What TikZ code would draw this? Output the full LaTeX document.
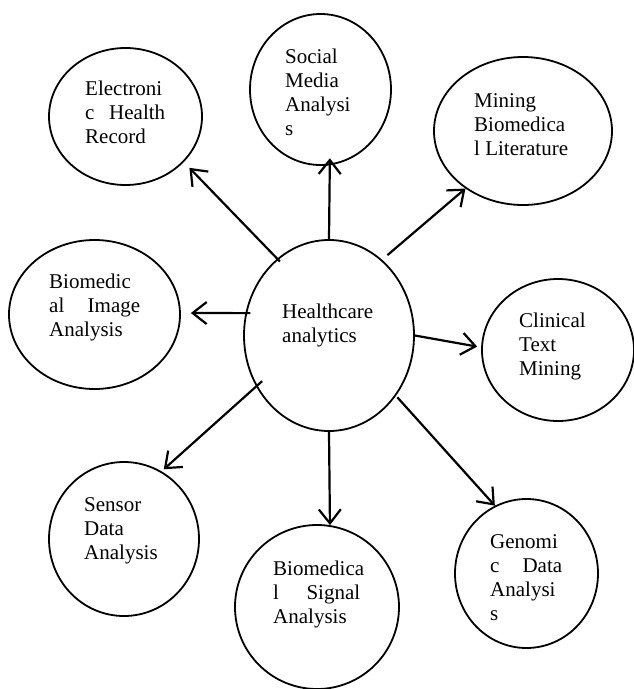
\documentclass[tikz,border=0pt]{standalone}
\usepackage{fontspec}
\setmainfont{Liberation Serif}
\usetikzlibrary{shapes.geometric,arrows.meta}
\begin{document}
\begin{tikzpicture}[x=1pt,y=-1pt,
  bubble/.style 2 args={ellipse, draw, line width=1.8pt, inner sep=0pt,
    minimum width=#1, minimum height=#2},
  lbl/.style={anchor=base west, inner sep=0pt, font=\fontsize{21}{24.3}\selectfont},
  arr/.style={line width=2.2pt, -{Straight Barb[length=14pt,width=22pt]}}]
\useasboundingbox (0,0) rectangle (633,689);
% bubbles
\node[bubble={153pt}{137pt}] (ehr) at (125.5,116.5) {};
\node[bubble={141pt}{151pt}] (sma) at (320.5,89.5) {};
\node[bubble={178pt}{148pt}] (mbl) at (523,131) {};
\node[bubble={171pt}{149pt}] (bia) at (94.5,314.5) {};
\node[bubble={170pt}{191pt}] (hc) at (329,335.5) {};
\node[bubble={152pt}{142pt}] (ctm) at (558,350) {};
\node[bubble={150pt}{154pt}] (sda) at (124,539) {};
\node[bubble={164pt}{164pt}] (bsa) at (317,607) {};
\node[bubble={143pt}{149pt}] (gda) at (526.5,573.5) {};
% texts
\node[lbl] (tehr) at (85,95) {\parbox[t]{130pt}{\raggedright Electroni\\\makebox[80pt][l]{c\hfill Health}\\Record}};
\node[lbl] (tsma) at (285,63) {\parbox[t]{130pt}{\raggedright Social\\Media\\Analysi\\s}};
\node[lbl] (tmbl) at (474,107) {\parbox[t]{130pt}{\raggedright Mining\\Biomedica\\l Literature}};
\node[lbl] (tbia) at (49,288) {\parbox[t]{130pt}{\raggedright Biomedic\\\makebox[91pt][l]{al\hfill Image}\\Analysis}};
\node[lbl] (thc) at (282,318) {\parbox[t]{130pt}{\raggedright Healthcare\\analytics}};
\node[lbl] (tctm) at (519,327) {\parbox[t]{130pt}{\raggedright Clinical\\Text\\Mining}};
\node[lbl] (tsda) at (84,511) {\parbox[t]{130pt}{\raggedright Sensor\\Data\\Analysis}};
\node[lbl] (tbsa) at (273,575) {\parbox[t]{130pt}{\raggedright Biomedica\\\makebox[87pt][l]{l\hfill Signal}\\Analysis}};
\node[lbl] (tgda) at (490,548) {\parbox[t]{130pt}{\raggedright Genomi\\\makebox[72pt][l]{c\hfill Data}\\Analysi\\s}};
% arrows
\draw[arr, shorten <=-4pt, shorten >=8pt] (hc.124.6) -- (ehr.-38.6);
\draw[arr, shorten >=-7pt] (hc.north) -- (sma.-83);
\draw[arr, shorten <=7pt] (hc.55.8) -- (mbl.-135.5);
\draw[arr, shorten <=-5pt, shorten >=10pt] (hc.165.5) -- (bia.1);
\draw[arr, shorten >=4pt] (hc.0) -- (ctm.178);
\draw[arr, shorten <=-8pt, shorten >=3pt] (hc.-145.8) -- (sda.61.8);
\draw[arr] (hc.south) -- (bsa.81.7);
\draw[arr, shorten <=2pt] (hc.-42.6) -- (gda.115.1);
\end{tikzpicture}
\end{document}
